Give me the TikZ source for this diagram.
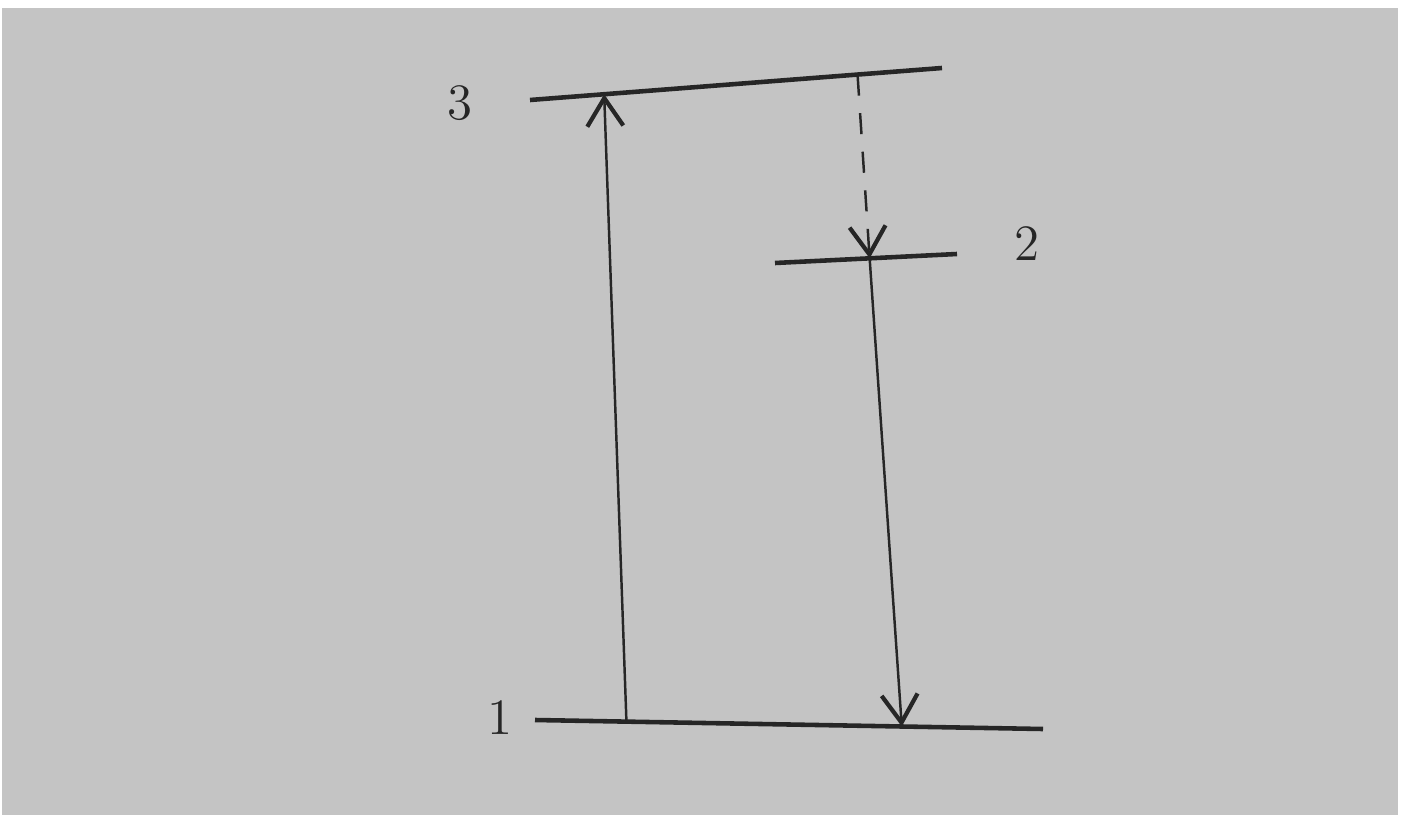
\documentclass[tikz,border=0pt]{standalone}
\usepackage{tikz}
\usetikzlibrary{arrows.meta, calc, positioning}
\definecolor{paper}{RGB}{196,196,196}
\definecolor{ink}{RGB}{38,38,38}
\tikzset{
  level/.style={ink, line width=1.3pt},
  trans/.style={ink, line width=0.7pt, ->},
  lbl/.style={ink, font=\fontsize{14.5}{16}\selectfont}
}

\begin{document}
\begin{tikzpicture}[>={Straight Barb[length=2.8mm,width=3.6mm,line width=1.2pt]}]
            % paper
            \useasboundingbox (0,0) rectangle (14.09,8.25);
            \fill[white] (0,0) rectangle (14.09,8.25);
            \fill[paper] (0.02,0.1) rectangle (13.98,8.17);

            % Energy levels
            \coordinate (l3a) at (5.30,7.25);
            \coordinate (l3b) at (9.42,7.57);
            \coordinate (l2a) at (7.75,5.62);
            \coordinate (l2b) at (9.57,5.71);
            \coordinate (l1a) at (5.35,1.05);
            \coordinate (l1b) at (10.43,0.96);
            \draw[level] (l3a) -- (l3b);
            \draw[level] (l2a) -- (l2b);
            \draw[level] (l1a) -- (l1b);

            % Labels
            \node[lbl] (n3) at (4.60,7.22) {3};
            \node[lbl] (n2) at (10.27,5.81) {2};
            \node[lbl] (n1) at (5.00,1.07) {1};

            % Transitions
            \coordinate (pumpbase) at ($(l1a)!0.18!(l1b)$);
            \coordinate (pumptop) at ($(l3a)!0.18!(l3b)$);
            \coordinate (decaytop) at ($(l3a)!0.795!(l3b)$);
            \coordinate (mid2) at ($(l2a)!0.52!(l2b)$);
            \coordinate (emitend) at ($(l1a)!0.722!(l1b)$);
            \draw[trans] (pumpbase) -- (pumptop);
            \draw[trans, dashed, dash pattern=on 6pt off 5pt] (decaytop) -- (mid2);
            \draw[trans] (mid2) -- (emitend);
        \end{tikzpicture}
\end{document}
